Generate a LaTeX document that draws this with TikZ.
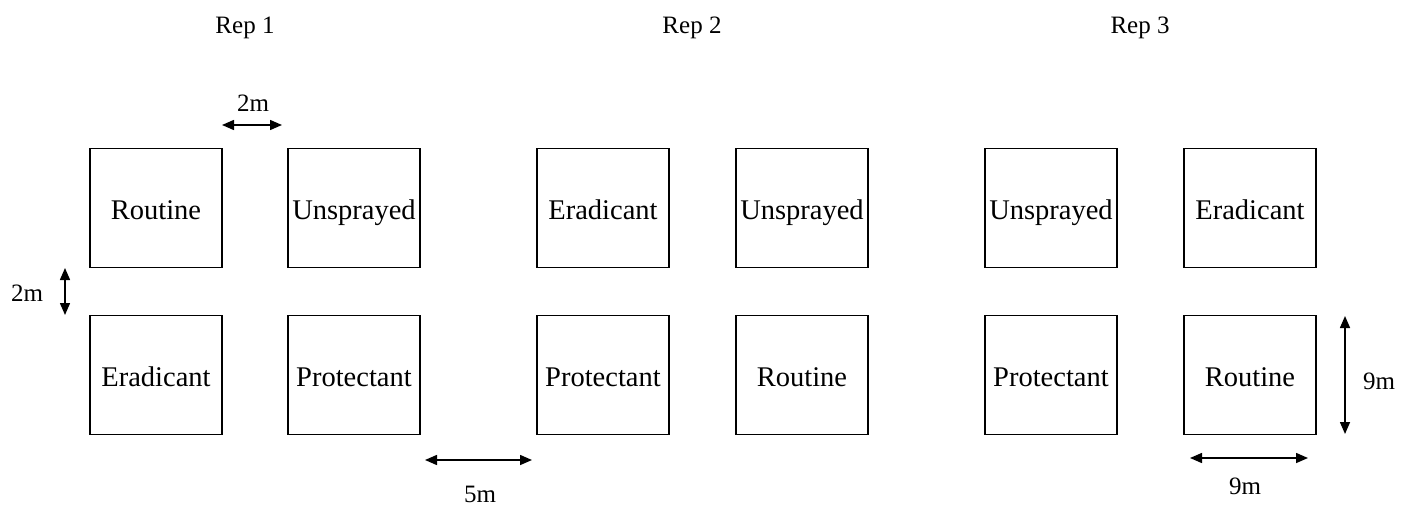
\documentclass[tikz,border=0pt]{standalone}
\usepackage{fontspec}
\setmainfont{Liberation Serif}
\usetikzlibrary{arrows.meta}
\begin{document}
\begin{tikzpicture}[x=1pt,y=-1pt,
  plot/.style={draw, line width=1.7pt, minimum width=132pt, minimum height=119pt, inner sep=0pt, text height=28pt, text depth=6pt, font=\fontsize{28.5}{31}\selectfont},
  lbl/.style={font=\fontsize{25}{28}\selectfont, inner sep=0pt},
  dim/.style={line width=1.5pt, {Triangle[length=12pt,width=10pt]}-{Triangle[length=12pt,width=10pt]}}]
\useasboundingbox (0,0) rectangle (1408,506);
% Rep labels
\node[lbl] (rep1) at (245,28) {Rep 1};
\node[lbl] (rep2) at (692,28) {Rep 2};
\node[lbl] (rep3) at (1140,28) {Rep 3};
% Rep 1
\node[plot] (a1) at (156,208) {Routine};
\node[plot] (a2) at (354,208) {Unsprayed};
\node[plot] (a3) at (156,375) {Eradicant};
\node[plot] (a4) at (354,375) {Protectant};
% Rep 2
\node[plot] (b1) at (603,208) {Eradicant};
\node[plot] (b2) at (802,208) {Unsprayed};
\node[plot] (b3) at (603,375) {Protectant};
\node[plot] (b4) at (802,375) {Routine};
% Rep 3
\node[plot] (c1) at (1051,208) {Unsprayed};
\node[plot] (c2) at (1250,208) {Eradicant};
\node[plot] (c3) at (1051,375) {Protectant};
\node[plot] (c4) at (1250,375) {Routine};
% dimension arrows
\coordinate (h2s) at (222,125);
\coordinate (h2e) at (282,125);
\draw[dim] (h2s) -- (h2e);
\node[lbl] (l2mh) at (253,103) {2m};
\coordinate (v2s) at (65,268);
\coordinate (v2e) at (65,315);
\draw[dim] (v2s) -- (v2e);
\node[lbl] (l2mv) at (27,293) {2m};
\coordinate (h5s) at (425,460);
\coordinate (h5e) at (532,460);
\draw[dim] (h5s) -- (h5e);
\node[lbl] (l5m) at (480,494) {5m};
\coordinate (v9s) at (1345,316);
\coordinate (v9e) at (1345,434);
\draw[dim] (v9s) -- (v9e);
\node[lbl] (l9mv) at (1379,381) {9m};
\coordinate (h9s) at (1190,458);
\coordinate (h9e) at (1308,458);
\draw[dim] (h9s) -- (h9e);
\node[lbl] (l9mh) at (1245,486) {9m};
\end{tikzpicture}
\end{document}
